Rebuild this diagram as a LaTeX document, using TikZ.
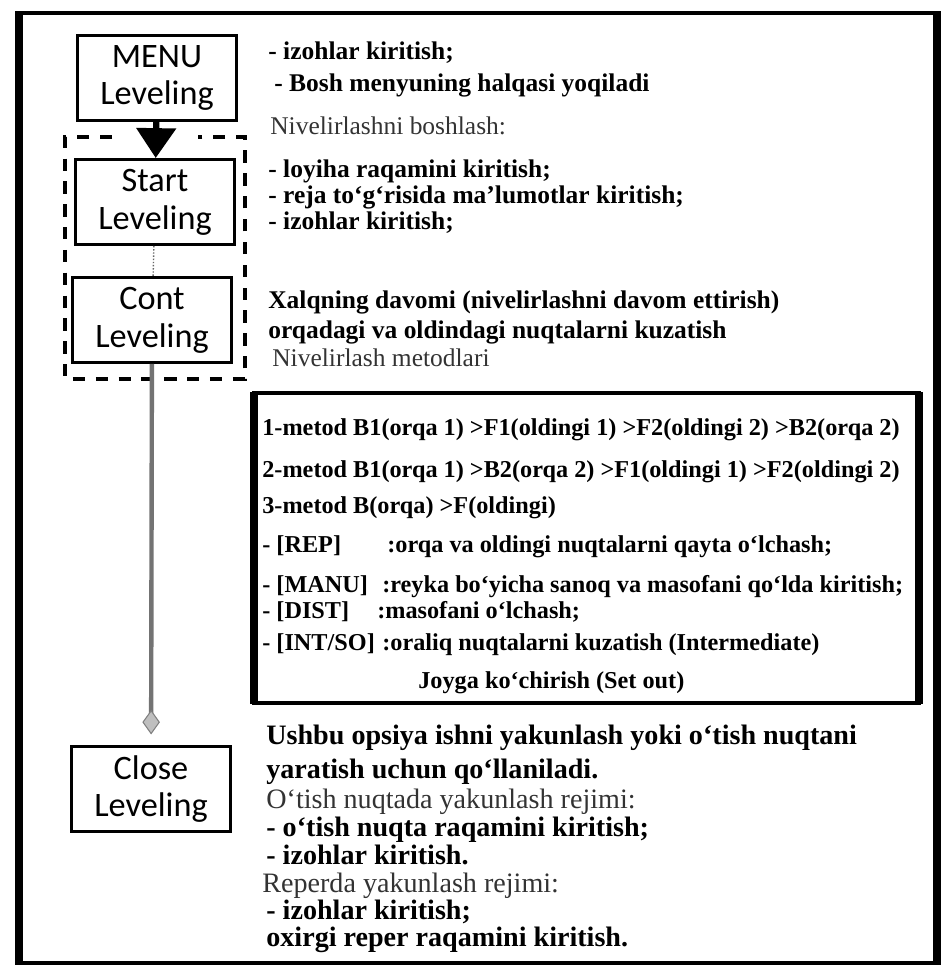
\documentclass[tikz,border=0pt]{standalone}
\usepackage{fontspec}
\setmainfont{Liberation Serif}
\newfontfamily\boxfont{Carlito}
\usetikzlibrary{arrows.meta}

\begin{document}
\begin{tikzpicture}[x=0.02cm,y=-0.02cm,
		level/.style={draw,line width=1.7pt,minimum width=3.2cm,minimum height=1.7cm,
			inner sep=0pt,align=center,font=\boxfont\fontsize{19.5}{21.5}\selectfont},
		note/.style={anchor=base west,inner sep=0pt,font=\bfseries\fontsize{14.5}{16}\selectfont},
		soft/.style={anchor=base west,inner sep=0pt,font=\fontsize{14.5}{16}\selectfont,text=black!80},
		endnote/.style={note,font=\bfseries\fontsize{16}{18}\selectfont},
		endsoft/.style={soft,font=\fontsize{16}{18}\selectfont},
		meth/.style={anchor=base west,inner sep=0pt,font=\bfseries\fontsize{13.8}{15}\selectfont},
		grp/.style={line width=1.8pt,dash pattern=on 7pt off 6pt}]
				\useasboundingbox (0,0) rectangle (942,968);

				% outer frame
				\draw [line width=2pt] (20,13) rectangle (937,963);
				\draw [line width=4.5pt] (19,11) -- (19,965);
				\draw [line width=4.5pt] (937,11) -- (937,965);

				% the four stages
				\node [level] (menu) at (157,78) {MENU\\Leveling};
				\node [level] (start) at (155,202) {Start\\Leveling};
				\node [level] (cont) at (152,320) {Cont\\Leveling};
				\node [level] (close) at (151,789) {Close\\Leveling};

				% dashed group round start and cont
				\draw [grp] (112,137) -- (65,137) -- (65,379) -- (245,379) -- (245,137) -- (198,137);

				\draw [line width=3.5pt,-{Triangle[length=17pt,width=22pt]}] (menu) -- (start);
				\draw [black!60,densely dotted,thick] (start) -- (cont);
				\draw [black!55,line width=2.5pt,shorten >=6pt,
					-{Diamond[length=14pt,width=10pt,color=black!50,fill=black!25,line width=0.6pt]}] (cont) -- (close);

				% notes beside the stages
				\node [note] (m1) at (268,59) {- izohlar kiritish;};
				\node [note] (m2) at (274,91) {- Bosh menyuning halqasi yoqiladi};
				\node [soft] (s0) at (270,134) {Nivelirlashni boshlash:};
				\node [note] (s1) at (268,177) {- loyiha raqamini kiritish;};
				\node [note] (s2) at (268,203) {- reja to‘g‘risida ma’lumotlar kiritish;};
				\node [note] (s3) at (268,229) {- izohlar kiritish;};
				\node [note] (c1) at (268,308) {Xalqning davomi (nivelirlashni davom ettirish)};
				\node [note] (c2) at (268,338) {orqadagi va oldindagi nuqtalarni kuzatish};
				\node [soft] (c3) at (272,366) {Nivelirlash metodlari};

				% methods box
				\draw [line width=1.8pt] (254,393) rectangle (919,703);
				\draw [line width=4pt] (254,392) -- (254,704);
				\draw [line width=4pt] (919,392) -- (919,704);
				\node [meth] (k1) at (262,435) {1-metod B1(orqa 1) >F1(oldingi 1) >F2(oldingi 2) >B2(orqa 2)};
				\node [meth] (k2) at (262,477) {2-metod B1(orqa 1) >B2(orqa 2) >F1(oldingi 1) >F2(oldingi 2)};
				\node [meth] (k3) at (262,513) {3-metod B(orqa) >F(oldingi)};
				\node [meth] (k4) at (262,552) {\makebox[2.5cm][l]{- [REP]}:orqa va oldingi nuqtalarni qayta o‘lchash;};
				\node [meth] (k5) at (262,592) {\makebox[2.4cm][l]{- [MANU]}:reyka bo‘yicha sanoq va masofani qo‘lda kiritish;};
				\node [meth] (k6) at (262,618) {\makebox[2.3cm][l]{- [DIST]}:masofani o‘lchash;};
				\node [meth] (k7) at (262,650) {\makebox[2.4cm][l]{- [INT/SO]}:oraliq nuqtalarni kuzatish (Intermediate)};
				\node [meth] (k8) at (418,688) {Joyga ko‘chirish (Set out)};

				% closing notes
				\node [endnote] (e1) at (266,744) {Ushbu opsiya ishni yakunlash yoki o‘tish nuqtani};
				\node [endnote] (e2) at (266,778) {yaratish uchun qo‘llaniladi.};
				\node [endsoft] (e3) at (266,808) {O‘tish nuqtada yakunlash rejimi:};
				\node [endnote] (e4) at (266,836) {- o‘tish nuqta raqamini kiritish;};
				\node [endnote] (e5) at (266,864) {- izohlar kiritish.};
				\node [endsoft] (e6) at (262,892) {Reperda yakunlash rejimi:};
				\node [endnote] (e7) at (266,919) {- izohlar kiritish;};
				\node [endnote] (e8) at (266,946) {oxirgi reper raqamini kiritish.};

			\end{tikzpicture}
\end{document}
